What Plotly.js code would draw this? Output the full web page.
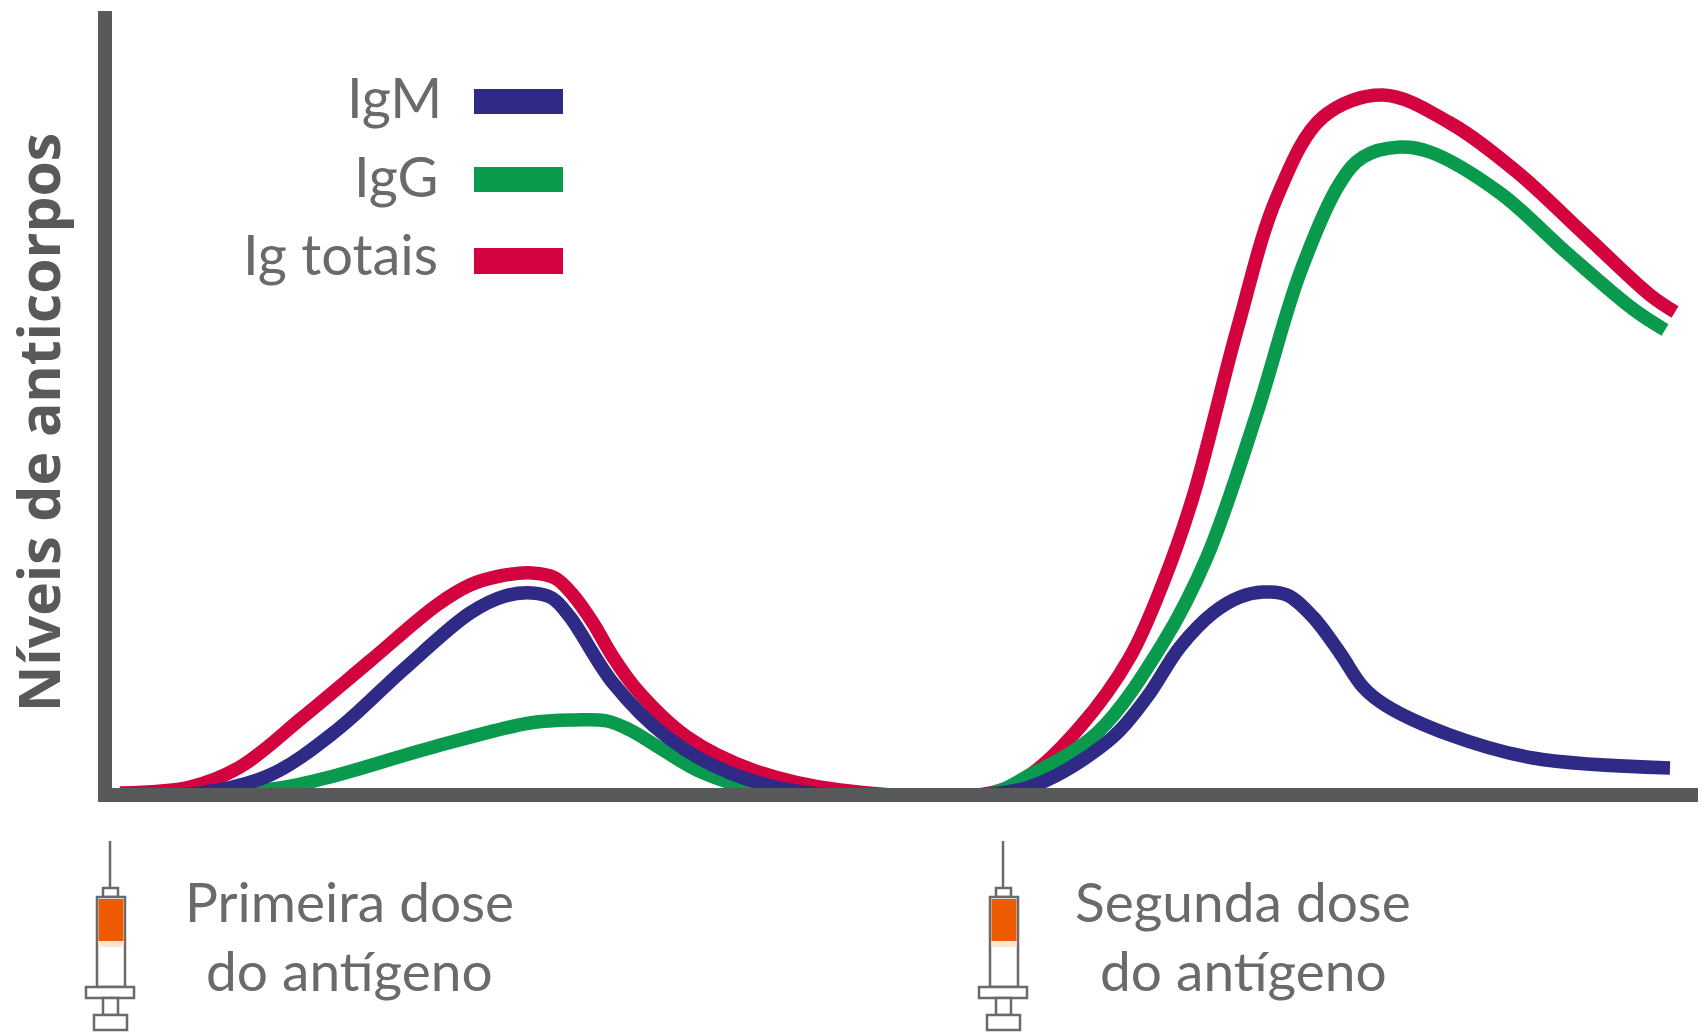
<!DOCTYPE html>
<html><head><meta charset="utf-8">
<script src="https://cdn.plot.ly/plotly-3.0.1.min.js"></script>
<style>html,body{margin:0;padding:0;background:#fff}</style></head>
<body><div id="chart" style="width:1704px;height:1032px"></div>
<script>
// Series values (time and level in arbitrary units)
const totalTime = [120,190,240,303,370,437,470,500,532,555,573,593,613,637,687,753,840,985,1027,1080,1130,1163,1193,1237,1277,1323,1383,1450,1517,1583,1650,1675];
const totalLevel = [2,8,28,78,134,190,210,219,222,217,200,172,138,105,58,25,5,1,18,68,138,212,298,465,598,678,700,672,623,562,500,483];
const iggTime = [200,280,330,430,530,575,607,630,663,697,763,800,985,1030,1097,1163,1207,1257,1300,1340,1363,1400,1430,1500,1567,1633,1665];
const iggLevel = [0,7,18,47,72,75,74,65,45,25,3,0,0,20,62,152,238,382,522,612,638,648,643,602,542,486,465];
const igmTime = [120,200,270,337,403,470,505,532,552,570,613,667,730,810,1000,1047,1113,1147,1180,1213,1240,1263,1287,1313,1340,1363,1385,1450,1533,1670];
const igmLevel = [0,2,20,65,125,182,199,202,197,178,112,58,22,2,2,15,58,98,148,182,198,203,200,178,142,108,90,60,37,27];
const seriesNames = ["IgM","IgG","Ig totais"];
const seriesColors = ["#2e2a86","#0a9a4d","#d2033f"];
const axisTitle = "Níveis de anticorpos";
const doseLabels = ["Primeira dose","Segunda dose"];
const doseSub = "do antígeno";

const W=1704,H=1032,L=112,R=1698,T=11,B=788;
const AX="#58595b", TX="#6a6a6a";
const fx=x=>(x-L)/(R-L), fy=y=>(B-y)/(B-T);
const tr=(x,y,i)=>({x,y,type:"scatter",mode:"lines",name:seriesNames[i],showlegend:false,hoverinfo:"skip",
  line:{color:seriesColors[i],width:13.5,shape:"spline",smoothing:1,simplify:false}});
const data=[tr(totalTime,totalLevel,2),tr(iggTime,iggLevel,1),tr(igmTime,igmLevel,0)];

const shapes=[],annotations=[];
const rect=(x0,y0,x1,y1,fill,line,w)=>shapes.push({type:"rect",xref:"paper",yref:"paper",x0:fx(x0),x1:fx(x1),y0:fy(y0),y1:fy(y1),
  fillcolor:fill,line:{color:line||fill,width:line?(w||2.5):0},layer:"above"});
const text=(t,x,y,size,anchor,extra)=>annotations.push(Object.assign({text:t,xref:"paper",yref:"paper",x:fx(x),y:fy(y),xanchor:anchor,yanchor:"middle",
  showarrow:false,font:{family:"Lato",size:size,color:TX}},extra||{}));

// legend
[[89,114,97,444],[167,192,175,440],[248,274,253,440]].forEach((r,i)=>{
  rect(474,r[0],563,r[1],seriesColors[i]);
  text(seriesNames[i],r[3],r[2],56,"right");
});
// axis title
annotations.push({text:"<b>"+axisTitle+"</b>",xref:"paper",yref:"paper",x:fx(38),y:fy(423),xanchor:"center",yanchor:"middle",textangle:-90,showarrow:false,
  font:{family:"Open Sans",size:57,color:"#58595b"}});
// syringes and labels
[0,893].forEach((dx,i)=>{
  shapes.push({type:"line",xref:"paper",yref:"paper",x0:fx(110+dx),x1:fx(110+dx),y0:fy(841),y1:fy(888),line:{color:TX,width:2.5},layer:"above"});
  rect(103+dx,888,118+dx,897,"#ffffff",TX);
  rect(97+dx,897,125+dx,987,"#ffffff",TX);
  rect(98.5+dx,899,123.5+dx,941,"#ee5a00");
  rect(98.5+dx,941,123.5+dx,947,"#fde6d2");
  rect(86+dx,987,134+dx,998,"#ffffff",TX);
  rect(103+dx,998,118+dx,1015,"#ffffff",TX);
  rect(94+dx,1015,127+dx,1030,"#ffffff",TX);
  const cx=i==0?349:1243;
  text(doseLabels[i],cx,901,55,"center");
  text(doseSub,cx,970,55,"center");
});

const layout={width:W,height:H,margin:{l:L,r:W-R,t:T,b:H-B,pad:0},paper_bgcolor:"#fff",plot_bgcolor:"#fff",showlegend:false,
  xaxis:{range:[112,1698],showgrid:false,zeroline:false,showticklabels:false,ticks:"",showline:true,linecolor:AX,linewidth:14,fixedrange:true},
  yaxis:{range:[7,784],showgrid:false,zeroline:false,showticklabels:false,ticks:"",showline:true,linecolor:AX,linewidth:14,fixedrange:true},
  shapes,annotations};
Plotly.newPlot("chart",data,layout,{displayModeBar:false,staticPlot:true});
</script></body></html>
